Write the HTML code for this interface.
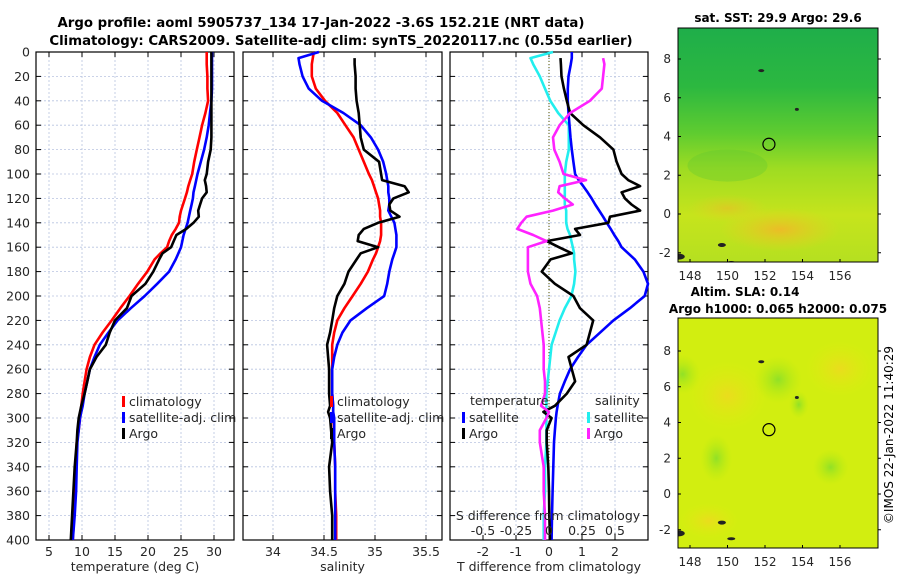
<!DOCTYPE html>
<html><head><meta charset="utf-8"><style>
html,body{margin:0;padding:0;background:#fff;}
svg{display:block;font-family:"DejaVu Sans","Liberation Sans",sans-serif;}
</style></head><body>
<svg id="fig" width="900" height="580" viewBox="0 0 900 580" xmlns="http://www.w3.org/2000/svg">
<defs>
<linearGradient id="sstGrad" x1="0" y1="0" x2="0" y2="1">
<stop offset="0" stop-color="#1fae4a"/><stop offset="0.25" stop-color="#2cb840"/>
<stop offset="0.45" stop-color="#5fcc30"/><stop offset="0.6" stop-color="#9edc22"/>
<stop offset="0.8" stop-color="#c6e41c"/><stop offset="1" stop-color="#b5e020"/>
</linearGradient>
<radialGradient id="orangeBlob"><stop offset="0" stop-color="#f0b828" stop-opacity="0.9"/><stop offset="1" stop-color="#e8d020" stop-opacity="0"/></radialGradient>
<radialGradient id="greenBlob"><stop offset="0" stop-color="#8ee028" stop-opacity="0.95"/><stop offset="1" stop-color="#b8ea10" stop-opacity="0"/></radialGradient>
<radialGradient id="yellowBlob"><stop offset="0" stop-color="#f0d820" stop-opacity="0.8"/><stop offset="1" stop-color="#e0ec10" stop-opacity="0"/></radialGradient>
</defs>
<g font-weight="bold" font-size="13.3" text-anchor="middle">
<text x="321" y="27">Argo profile: aoml 5905737_134 17-Jan-2022 -3.6S 152.21E (NRT data)</text>
<text x="341" y="45">Climatology: CARS2009. Satellite-adj clim: synTS_20220117.nc (0.55d earlier)</text>
</g>
<g id="panels"></g>
<g id="maps"></g>
<text x="0" y="0" font-size="12" text-anchor="middle" transform="translate(893,435) rotate(-90)">©IMOS 22-Jan-2022 11:40:29</text>
</svg>
<script>
// depth grid (m)
const depths=[0,5,10,20,30,40,50,60,70,80,90,100,105,110,115,120,125,130,135,140,145,150,155,160,165,170,180,190,200,210,220,230,240,250,260,270,280,290,295,300,310,320,340,360,380,400];
// temperature (deg C)
const tempClim=[28.9,28.9,28.9,29.0,29.0,29.1,28.7,28.2,27.8,27.4,27.0,26.7,26.4,26.1,25.9,25.6,25.3,25.0,24.8,24.7,24.2,23.6,23.2,22.9,21.9,21.0,19.9,18.5,17.2,15.8,14.5,13.1,11.9,11.2,10.7,10.4,10.1,9.9,9.8,9.7,9.5,9.2,9.1,8.9,8.8,8.6];
const tempSat=[29.7,29.7,29.7,29.7,29.7,29.6,29.4,29.2,28.9,28.5,28.0,27.5,27.3,27.1,26.9,26.8,26.6,26.4,26.2,26.0,25.7,25.4,25.2,25.0,24.6,24.2,23.2,21.4,19.5,17.4,15.4,14.0,12.7,11.9,11.2,10.8,10.4,10.1,9.9,9.7,9.5,9.3,9.2,9.1,8.9,8.6];
const tempArgo=[29.6,29.6,29.6,29.6,29.6,29.6,29.6,29.6,29.6,29.5,29.1,28.9,28.6,28.8,28.9,28.2,27.9,27.6,27.7,26.9,25.8,24.3,23.9,23.5,22.2,21.7,20.8,19.6,17.5,16.8,15.0,14.2,13.6,12.2,11.2,10.8,10.4,9.9,9.7,9.5,9.3,9.2,8.9,8.7,8.5,8.3];
// salinity (psu)
const salClim=[34.40,34.39,34.38,34.38,34.42,34.51,34.63,34.71,34.79,34.84,34.89,34.94,34.97,34.99,35.01,35.03,35.04,35.05,35.05,35.06,35.06,35.06,35.05,35.03,35.01,34.98,34.93,34.86,34.78,34.70,34.63,34.60,34.58,34.58,34.58,34.58,34.58,34.59,34.59,34.59,34.60,34.60,34.61,34.61,34.62,34.62];
const salSat=[34.45,34.25,34.26,34.29,34.35,34.48,34.69,34.86,34.96,35.03,35.08,35.11,35.12,35.13,35.13,35.14,35.14,35.13,35.16,35.19,35.20,35.21,35.21,35.21,35.19,35.17,35.14,35.12,35.09,34.92,34.76,34.68,34.63,34.60,34.58,34.58,34.58,34.59,34.59,34.60,34.60,34.60,34.61,34.61,34.61,34.61];
const salArgo=[null,34.80,34.80,34.81,34.81,34.82,34.84,34.85,34.86,34.89,35.04,35.06,35.07,35.29,35.33,35.18,35.14,35.15,35.24,35.03,34.89,34.84,34.83,35.03,34.86,34.82,34.74,34.70,34.63,34.60,34.58,34.56,34.53,34.54,34.55,34.55,34.55,34.56,34.54,34.56,34.57,34.58,34.55,34.56,34.58,34.58];
// differences from climatology
const tDiffSat=[0.69,0.69,0.66,0.59,0.57,0.57,0.59,0.62,0.65,0.69,0.74,0.79,0.90,1.04,1.17,1.29,1.40,1.52,1.64,1.75,1.87,1.98,2.10,2.20,2.40,2.60,2.86,3.00,2.90,2.45,1.95,1.55,1.14,0.88,0.64,0.48,0.33,0.26,0.23,0.21,0.18,0.15,0.13,0.11,0.09,0.08];
const tDiffArgo=[null,0.35,0.36,0.38,0.45,0.54,0.64,1.04,1.55,1.95,2.05,2.20,2.40,2.76,2.20,2.30,2.50,2.76,1.85,1.80,0.79,0.94,-0.07,0.30,0.69,0.05,-0.22,0.18,0.74,0.94,1.34,1.24,1.14,0.59,0.69,0.79,0.54,0.18,-0.17,0.08,-0.07,-0.07,-0.02,0.00,0.01,0.03];
const sDiffSat=[0.03,-0.14,-0.12,-0.07,-0.03,0.01,0.07,0.15,0.15,0.15,0.13,0.12,0.12,0.12,0.12,0.12,0.12,0.13,0.13,0.13,0.14,0.16,0.17,0.18,0.19,0.19,0.20,0.19,0.17,0.12,0.08,0.05,0.02,0.01,0.00,-0.01,-0.02,-0.02,-0.02,-0.02,-0.02,-0.02,-0.03,-0.03,-0.04,-0.04];
const sDiffArgo=[null,0.41,0.42,0.41,0.40,0.31,0.16,0.08,0.03,0.04,0.08,0.11,0.28,0.08,0.07,0.12,0.18,0.03,-0.17,-0.21,-0.24,-0.12,-0.02,-0.16,-0.16,-0.16,-0.16,-0.14,-0.09,-0.07,-0.06,-0.05,-0.04,-0.04,-0.04,-0.03,-0.03,-0.06,0.00,-0.02,-0.07,-0.07,-0.04,-0.04,-0.03,-0.03];
const depthTicks=[0,20,40,60,80,100,120,140,160,180,200,220,240,260,280,300,320,340,360,380,400];
const tempTicks=[5,10,15,20,25,30];
const salTicks=[34,34.5,35,35.5];
const tDiffTicks=[-2,-1,0,1,2];
const sDiffTicks=[-0.5,-0.25,0,0.25,0.5];
const lonTicks=[148,150,152,154,156];
const latTicks=[8,6,4,2,0,-2];
const argoLon=152.21, argoLat=3.6;

const NS="http://www.w3.org/2000/svg";
function mk(tag,attrs,parent){const e=document.createElementNS(NS,tag);for(const k in attrs)e.setAttribute(k,attrs[k]);parent.appendChild(e);return e;}
const Y0=52,Y1=540;
function yScale(d){return Y0+(d/400)*(Y1-Y0);}
function lin(d0,d1,r0,r1){return v=>r0+(v-d0)/(d1-d0)*(r1-r0);}

const panelsG=document.getElementById('panels');
function panel(name,x0,x1,xs,ticks,xlabel,tickFmt,showY){
  const g=mk('g',{},panelsG);
  
  
  ticks.forEach(t=>{const x=xs(t);const l=mk('line',{x1:x,x2:x,y1:Y0,y2:Y1,stroke:'#b8c4e0','stroke-width':0.8,'stroke-dasharray':'2,2'},g);
    });
  depthTicks.forEach(d=>{const y=yScale(d);const l=mk('line',{x1:x0,x2:x1,y1:y,y2:y,stroke:'#b8c4e0','stroke-width':0.8,'stroke-dasharray':'2,2'},g);
    
    const a=mk('line',{x1:x0,x2:x0+5,y1:y,y2:y,stroke:'#000'},g);
    const b=mk('line',{x1:x1-5,x2:x1,y1:y,y2:y,stroke:'#000'},g);
    if(showY){const t=mk('text',{x:x0-6,y:y+4.5,'font-size':12.5,'text-anchor':'end',fill:'#262626'},g);t.textContent=d;
      }
  });
  ticks.forEach(t=>{const x=xs(t);
    const a=mk('line',{x1:x,x2:x,y1:Y1,y2:Y1-5,stroke:'#000'},g);
    const b=mk('line',{x1:x,x2:x,y1:Y0,y2:Y0+5,stroke:'#000'},g);
    const tx=mk('text',{x:x,y:556,'font-size':12.5,'text-anchor':'middle',fill:'#262626'},g);tx.textContent=tickFmt(t);
    
  });
  const r=mk('rect',{x:x0,y:Y0,width:x1-x0,height:Y1-Y0,fill:'none',stroke:'#000','stroke-width':1.2},g);
  
  const xl=mk('text',{x:(x0+x1)/2,y:571,'font-size':12.5,'text-anchor':'middle',fill:'#262626'},g);xl.textContent=xlabel;
  
  return g;
}
function series(g,name,vals,xs,color){
  let d='';let pen=false;
  vals.forEach((v,i)=>{if(v===null){pen=false;return;}const x=xs(v).toFixed(1),y=yScale(depths[i]).toFixed(1);d+=(pen?'L':'M')+x+','+y;pen=true;});
  const p=mk('path',{d:d,fill:'none',stroke:color,'stroke-width':2.6,'stroke-linejoin':'round'},g);
  
  
}
function legend(g,items,x,y){
  items.forEach((it,i)=>{const yy=y+i*16;
    const m=mk('rect',{x:x,y:yy-6,width:3,height:11,fill:it[1]},g);
    const t=mk('text',{x:x+7,y:yy+4,'font-size':12.5,fill:'#262626'},g);t.textContent=it[0];
    });
}
const xT=lin(5,30,49,214);
const g1=panel('temperature-panel',36,234,xT,tempTicks,'temperature (deg C)',t=>t,true);
series(g1,'temp-climatology-line',tempClim,xT,'#ff0000');
series(g1,'temp-satellite-line',tempSat,xT,'#0000ff');
series(g1,'temp-argo-line',tempArgo,xT,'#000000');
legend(g1,[['climatology','#ff0000'],['satellite-adj. clim','#0000ff'],['Argo','#000000']],122,402);
const xS=lin(34,35,273,375);
const g2=panel('salinity-panel',243,442,xS,salTicks,'salinity',t=>t,false);
series(g2,'sal-climatology-line',salClim,xS,'#ff0000');
series(g2,'sal-satellite-line',salSat,xS,'#0000ff');
series(g2,'sal-argo-line',salArgo,xS,'#000000');
legend(g2,[['climatology','#ff0000'],['satellite-adj. clim','#0000ff'],['Argo','#000000']],330,402);
const xTD=lin(0,1,549,582);
const xSD=lin(0,0.25,549,582);
const g3=panel('difference-panel',450,648,xTD,tDiffTicks,'T difference from climatology',t=>t,false);
const zl=mk('line',{x1:xTD(0),x2:xTD(0),y1:Y0,y2:Y1,stroke:'#555500','stroke-width':1,'stroke-dasharray':'1,2'},g3);

series(g3,'sdiff-satellite-line',sDiffSat,xSD,'#22eeee');
series(g3,'tdiff-satellite-line',tDiffSat,xTD,'#0000ff');
series(g3,'tdiff-argo-line',tDiffArgo,xTD,'#000000');
series(g3,'sdiff-argo-line',sDiffArgo,xSD,'#ff22ff');
const lt=mk('text',{x:470,y:405,'font-size':12.5,fill:'#262626'},g3);lt.textContent='temperature';

const ls=mk('text',{x:595,y:405,'font-size':12.5,fill:'#262626'},g3);ls.textContent='salinity';

legend(g3,[['satellite','#0000ff'],['Argo','#000000']],462,418);
legend(g3,[['satellite','#22eeee'],['Argo','#ff22ff']],587,418);
const st=mk('text',{x:548,y:520,'font-size':12.5,'text-anchor':'middle',fill:'#262626'},g3);st.textContent='S difference from climatology';

sDiffTicks.forEach(t=>{const tx=mk('text',{x:xSD(t),y:535,'font-size':12.5,'text-anchor':'middle',fill:'#262626'},g3);tx.textContent=t;
  });

const mapsG=document.getElementById('maps');
const lonX=lin(148,156,690,840);
function map(name,y0,y1,latY,kind,titles){
  const g=mk('g',{},mapsG);
  
  
  const x0=678,x1=878;
  const clipId=name+'-clip';
  const cp=mk('clipPath',{id:clipId},g);mk('rect',{x:x0,y:y0,width:x1-x0,height:y1-y0},cp);
  const inner=mk('g',{'clip-path':'url(#'+clipId+')'},g);
  if(kind==='sst'){
    mk('rect',{x:x0,y:y0,width:x1-x0,height:y1-y0,fill:'url(#sstGrad)'},inner);
    mk('ellipse',{cx:lonX(152.8),cy:latY(-0.8),rx:60,ry:22,fill:'url(#orangeBlob)'},inner);
    mk('ellipse',{cx:lonX(150),cy:latY(0.3),rx:40,ry:14,fill:'url(#orangeBlob)','opacity':0.6},inner);
    mk('ellipse',{cx:lonX(150),cy:latY(2.5),rx:40,ry:16,fill:'#60c830','opacity':0.35},inner);
  } else {
    mk('rect',{x:x0,y:y0,width:x1-x0,height:y1-y0,fill:'#d2ee10'},inner);
    [[150,5.5,40,35],[156,7,35,28],[149,-1.5,30,18]].forEach(b=>mk('ellipse',{cx:lonX(b[0]),cy:latY(b[1]),rx:b[2],ry:b[3],fill:'url(#yellowBlob)'},inner));
    [[152.7,6.4,24,24],[147.6,6.7,18,20],[149.4,2,16,24],[155.5,1.5,18,18],[153.8,5,10,14]].forEach(b=>mk('ellipse',{cx:lonX(b[0]),cy:latY(b[1]),rx:b[2],ry:b[3],fill:'url(#greenBlob)'},inner));
  }
  [[147.4,-2.2,6,3],[149.7,-1.6,4,2],[150.2,-2.5,4,1.5],[151.8,7.4,3,1.5],[153.7,5.4,2,1.5]].forEach(b=>{const e=mk('ellipse',{cx:lonX(b[0]),cy:latY(b[1]),rx:b[2],ry:b[3],fill:'#222'},inner);
    });
  const c=mk('circle',{cx:lonX(argoLon),cy:latY(argoLat),r:6,fill:'none',stroke:'#000','stroke-width':1.2},g);
  
  const fr=mk('rect',{x:x0,y:y0,width:x1-x0,height:y1-y0,fill:'none',stroke:'#000','stroke-width':1},g);
  
  lonTicks.forEach(t=>{const x=lonX(t);mk('line',{x1:x,x2:x,y1:y1,y2:y1-3,stroke:'#000'},g);
    const tx=mk('text',{x:x,y:y1+18,'font-size':12,'text-anchor':'middle',fill:'#262626'},g);tx.textContent=t;
    });
  latTicks.forEach(t=>{const y=latY(t);mk('line',{x1:x1,x2:x1+3,y1:y,y2:y,stroke:'#000'},g);mk('line',{x1:x0,x2:x0+3,y1:y,y2:y,stroke:'#000'},g);
    const tx=mk('text',{x:x0-7,y:y+4,'font-size':12,'text-anchor':'end',fill:'#262626'},g);tx.textContent=t;
    });
  titles.forEach(tt=>{const tx=mk('text',{x:tt[1],y:tt[2],'font-size':12,'font-weight':'bold','text-anchor':'middle'},g);tx.textContent=tt[0];
    });
}
map('sst-map',28,262,lin(8,0,59,214),'sst',[['sat. SST: 29.9 Argo: 29.6',778,22]]);
map('sla-map',318,548,lin(8,0,351,494),'sla',[['Altim. SLA: 0.14',745,296],['Argo h1000: 0.065 h2000: 0.075',778,313]]);
</script>
</body></html>
